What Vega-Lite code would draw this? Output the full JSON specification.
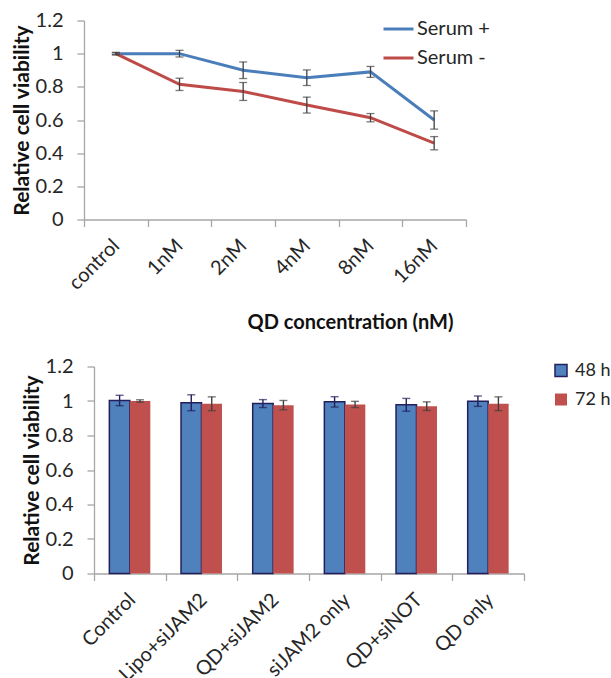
{
  "$schema": "https://vega.github.io/schema/vega-lite/v6.json",
  "padding": {"left": 11, "top": 10.5, "right": 0, "bottom": 0},
  "config": {
    "view": {"stroke": null},
    "font": "Lato",
    "axis": {
      "domainColor": "#a6a6a6", "tickColor": "#a6a6a6", "tickSize": 7,
      "domainWidth": 1.3, "tickWidth": 1.3, "grid": false, "labelOverlap": false,
      "labelFont": "Lato", "labelFontSize": 20, "labelColor": "#262626",
      "titleFont": "Lato", "titleFontWeight": "bold", "titleFontSize": 21, "titleColor": "#111111"
    },
    "axisY": {"labelOverlap": false, "labelSeparation": -40},
    "legend": {"labelFont": "Lato", "labelFontSize": 20, "labelColor": "#262626"}
  },
  "spacing": 24,
  "resolve": {"scale": {"color": "independent", "stroke": "independent"}, "legend": {"color": "independent", "stroke": "independent"}},
  "vconcat": [
    {
      "width": 382,
      "height": 199,
      "data": {"values": [
        {"conc": "control", "series": "Serum +", "value": 1.0, "lo": 0.992, "hi": 1.008},
        {"conc": "1nM", "series": "Serum +", "value": 1.0, "lo": 0.98, "hi": 1.02},
        {"conc": "2nM", "series": "Serum +", "value": 0.9, "lo": 0.85, "hi": 0.95},
        {"conc": "4nM", "series": "Serum +", "value": 0.855, "lo": 0.808, "hi": 0.902},
        {"conc": "8nM", "series": "Serum +", "value": 0.89, "lo": 0.857, "hi": 0.923},
        {"conc": "16nM", "series": "Serum +", "value": 0.6, "lo": 0.545, "hi": 0.655},
        {"conc": "control", "series": "Serum -", "value": 1.0, "lo": 0.995, "hi": 1.005},
        {"conc": "1nM", "series": "Serum -", "value": 0.815, "lo": 0.778, "hi": 0.852},
        {"conc": "2nM", "series": "Serum -", "value": 0.772, "lo": 0.718, "hi": 0.826},
        {"conc": "4nM", "series": "Serum -", "value": 0.69, "lo": 0.642, "hi": 0.738},
        {"conc": "8nM", "series": "Serum -", "value": 0.614, "lo": 0.589, "hi": 0.639},
        {"conc": "16nM", "series": "Serum -", "value": 0.46, "lo": 0.42, "hi": 0.5}
      ]},
      "encoding": {
        "x": {
          "field": "conc", "type": "nominal",
          "sort": ["control", "1nM", "2nM", "4nM", "8nM", "16nM"],
          "scale": {"type": "band", "paddingInner": 0, "paddingOuter": 0},
          "axis": {
            "labelAngle": -45, "labelAlign": "right", "labelBaseline": "middle", "labelFontSize": 20,
            "labelPadding": 16, "labelOffset": 0, "tickBand": "extent",
            "title": "QD concentration (nM)", "titleFontSize": 20,
            "titleX": 266, "titleY": 103, "titleAlign": "center", "titleBaseline": "middle", "titleAnchor": null
          }
        },
        "y": {
          "type": "quantitative",
          "scale": {"domain": [0, 1.2]},
          "axis": {"values": [0, 0.2, 0.4, 0.6, 0.8, 1, 1.2], "format": "~g", "labelOverlap": false, "labelSeparation": -40, "labelPadding": 14, "titlePadding": 3, "title": "Relative cell viability"}
        }
      },
      "layer": [
        {
          "mark": {"type": "line", "strokeWidth": 3},
          "encoding": {
            "y": {"field": "value"},
            "color": {
              "field": "series", "type": "nominal",
              "scale": {"domain": ["Serum +", "Serum -"], "range": ["#4A7EBB", "#BE4B48"]},
              "legend": {"orient": "none", "legendX": 298, "legendY": -8, "title": null, "symbolType": "stroke", "symbolSize": 900, "symbolStrokeWidth": 3, "labelOffset": 2, "rowPadding": 2, "labelFontSize": 20}
            }
          }
        },
        {
          "mark": {"type": "rule", "color": "#404040", "strokeWidth": 1.3},
          "encoding": {"y": {"field": "lo"}, "y2": {"field": "hi"}}
        },
        {
          "mark": {"type": "tick", "color": "#404040", "size": 8, "thickness": 1.3},
          "encoding": {"y": {"field": "lo"}}
        },
        {
          "mark": {"type": "tick", "color": "#404040", "size": 8, "thickness": 1.3},
          "encoding": {"y": {"field": "hi"}}
        }
      ]
    },
    {
      "width": 440,
      "height": 207,
      "data": {"values": [
        {"group": "Control", "time": "48 h", "value": 1.003, "lo": 0.973, "hi": 1.033},
        {"group": "Control", "time": "72 h", "value": 1.0, "lo": 0.993, "hi": 1.007},
        {"group": "Lipo+siJAM2", "time": "48 h", "value": 0.99, "lo": 0.944, "hi": 1.036},
        {"group": "Lipo+siJAM2", "time": "72 h", "value": 0.984, "lo": 0.944, "hi": 1.024},
        {"group": "QD+siJAM2", "time": "48 h", "value": 0.985, "lo": 0.962, "hi": 1.008},
        {"group": "QD+siJAM2", "time": "72 h", "value": 0.976, "lo": 0.949, "hi": 1.003},
        {"group": "siJAM2 only", "time": "48 h", "value": 0.995, "lo": 0.965, "hi": 1.025},
        {"group": "siJAM2 only", "time": "72 h", "value": 0.98, "lo": 0.962, "hi": 0.998},
        {"group": "QD+siNOT", "time": "48 h", "value": 0.978, "lo": 0.941, "hi": 1.015},
        {"group": "QD+siNOT", "time": "72 h", "value": 0.97, "lo": 0.945, "hi": 0.995},
        {"group": "QD only", "time": "48 h", "value": 0.999, "lo": 0.969, "hi": 1.029},
        {"group": "QD only", "time": "72 h", "value": 0.984, "lo": 0.944, "hi": 1.024}
      ]},
      "encoding": {
        "x": {
          "field": "group", "type": "nominal",
          "sort": ["Control", "Lipo+siJAM2", "QD+siJAM2", "siJAM2 only", "QD+siNOT", "QD only"],
          "scale": {"paddingInner": 0, "paddingOuter": 0, "range": [10, 440]},
          "axis": {"labelAngle": -45, "labelAlign": "right", "labelBaseline": "middle", "labelFontSize": 20, "labelPadding": 16, "labelOffset": 2, "tickBand": "extent", "title": null}
        },
        "xOffset": {
          "field": "time", "type": "nominal",
          "sort": ["48 h", "72 h"],
          "scale": {"paddingInner": 0, "paddingOuter": 0.75}
        },
        "y": {
          "type": "quantitative",
          "scale": {"domain": [0, 1.2]},
          "axis": {"values": [0, 0.2, 0.4, 0.6, 0.8, 1, 1.2], "format": "~g", "labelOverlap": false, "labelSeparation": -40, "offset": -10, "labelPadding": 14, "titlePadding": 3, "title": "Relative cell viability"}
        }
      },
      "layer": [
        {
          "mark": {"type": "bar", "strokeWidth": 1.5},
          "encoding": {
            "y": {"field": "value"},
            "color": {
              "field": "time", "type": "nominal",
              "scale": {"domain": ["48 h", "72 h"], "range": ["#4F81BD", "#C0504D"]},
              "legend": {"orient": "none", "legendX": 468, "legendY": -5, "title": null, "symbolType": "square", "symbolSize": 144, "symbolStrokeWidth": 1.5, "labelOffset": 5, "rowPadding": 11, "labelFontSize": 18}
            },
            "stroke": {
              "field": "time", "type": "nominal",
              "scale": {"domain": ["48 h", "72 h"], "range": ["#231f5c", "rgba(0,0,0,0)"]},
              "legend": {"orient": "none", "legendX": 468, "legendY": -5, "title": null, "symbolType": "square", "symbolSize": 144, "symbolStrokeWidth": 1.5, "labelOffset": 5, "rowPadding": 11, "labelFontSize": 18}
            }
          }
        },
        {
          "mark": {"type": "rule", "strokeWidth": 1.4},
          "encoding": {
            "y": {"field": "lo"}, "y2": {"field": "hi"},
            "color": {"condition": {"test": "datum.time === '48 h'", "value": "#231f5c"}, "value": "#404040"}
          }
        },
        {
          "mark": {"type": "tick", "size": 8, "thickness": 1.4},
          "encoding": {
            "y": {"field": "lo"},
            "color": {"condition": {"test": "datum.time === '48 h'", "value": "#231f5c"}, "value": "#404040"}
          }
        },
        {
          "mark": {"type": "tick", "size": 8, "thickness": 1.4},
          "encoding": {
            "y": {"field": "hi"},
            "color": {"condition": {"test": "datum.time === '48 h'", "value": "#231f5c"}, "value": "#404040"}
          }
        }
      ]
    }
  ]
}
